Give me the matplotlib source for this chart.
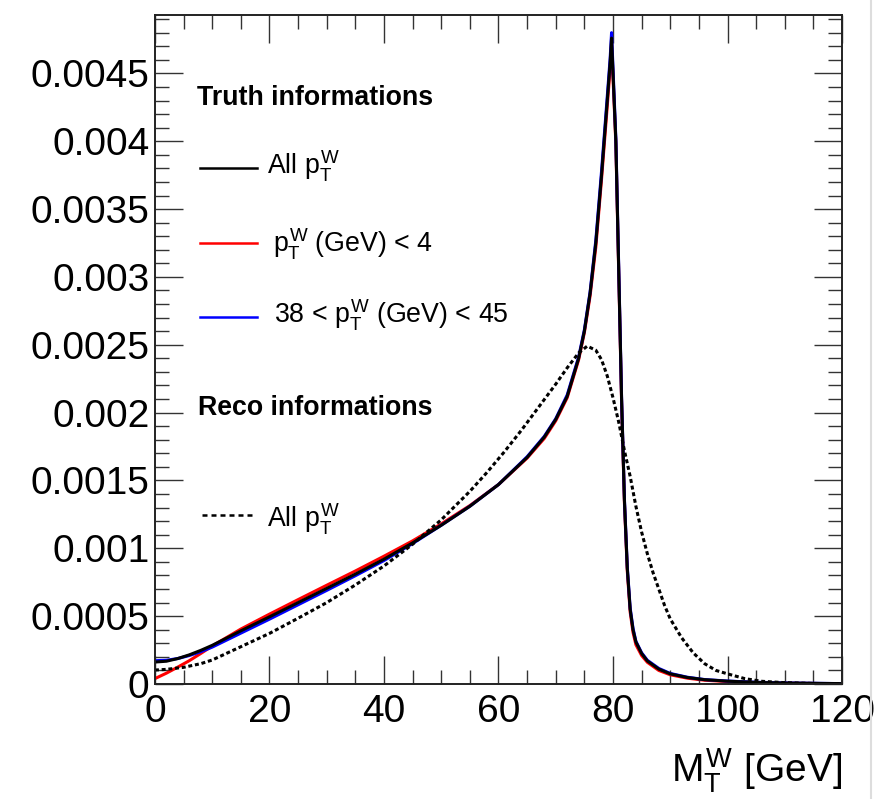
import matplotlib
matplotlib.use("Agg")
import matplotlib.pyplot as plt
from matplotlib.lines import Line2D
from matplotlib.ticker import MultipleLocator, FuncFormatter

plt.rcParams["font.family"] = ["Liberation Sans", "DejaVu Sans"]
plt.rcParams["mathtext.fontset"] = "custom"
plt.rcParams["mathtext.rm"] = "Liberation Sans"
plt.rcParams["mathtext.it"] = "Liberation Sans"
plt.rcParams["mathtext.bf"] = "Liberation Sans:bold"

# truth level M_T^W (GeV)
mt_truth = [0, 2, 4, 6, 8, 10, 15, 20, 25, 30, 35, 40, 45, 50, 55, 60, 65, 68, 70,
            72, 74, 75, 76, 77, 78, 79, 79.5, 79.75, 80.5, 81, 81.5, 82, 82.5, 83,
            83.5, 84, 85, 86, 88, 90, 93, 96, 100, 105, 110, 120]
truth_all = [1.62e-4, 1.68e-4, 1.88e-4, 2.15e-4, 2.48e-4, 2.85e-4, 3.92e-4, 4.95e-4,
             6.00e-4, 7.05e-4, 8.10e-4, 9.20e-4, 1.04e-3, 1.17e-3, 1.31e-3, 1.47e-3,
             1.67e-3, 1.82e-3, 1.95e-3, 2.12e-3, 2.40e-3, 2.60e-3, 2.88e-3, 3.25e-3,
             3.75e-3, 4.30e-3, 4.58e-3, 4.76e-3, 4.00e-3, 3.05e-3, 2.10e-3, 1.35e-3,
             8.5e-4, 5.5e-4, 4.0e-4, 3.1e-4, 2.25e-4, 1.7e-4, 1.1e-4, 7.5e-5, 4.8e-5,
             3.2e-5, 2.1e-5, 1.2e-5, 7e-6, 3e-6]
truth_low = [4.0e-5, 8.0e-5, 1.25e-4, 1.72e-4, 2.25e-4, 2.80e-4, 4.05e-4, 5.15e-4,
             6.22e-4, 7.28e-4, 8.33e-4, 9.42e-4, 1.055e-3, 1.18e-3, 1.315e-3, 1.47e-3,
             1.665e-3, 1.81e-3, 1.94e-3, 2.11e-3, 2.39e-3, 2.59e-3, 2.86e-3, 3.22e-3,
             3.72e-3, 4.26e-3, 4.54e-3, 4.72e-3, 3.98e-3, 3.03e-3, 2.08e-3, 1.33e-3,
             8.3e-4, 5.3e-4, 3.8e-4, 2.9e-4, 2.1e-4, 1.6e-4, 1.0e-4, 6.8e-5, 4.3e-5,
             2.8e-5, 1.8e-5, 1.0e-5, 6e-6, 2e-6]
truth_mid = [1.72e-4, 1.75e-4, 1.88e-4, 2.10e-4, 2.38e-4, 2.72e-4, 3.75e-4, 4.78e-4,
             5.84e-4, 6.90e-4, 7.98e-4, 9.10e-4, 1.035e-3, 1.17e-3, 1.31e-3, 1.47e-3,
             1.675e-3, 1.825e-3, 1.955e-3, 2.13e-3, 2.41e-3, 2.61e-3, 2.89e-3, 3.27e-3,
             3.78e-3, 4.33e-3, 4.61e-3, 4.80e-3, 4.02e-3, 3.07e-3, 2.11e-3, 1.36e-3,
             8.6e-4, 5.6e-4, 4.1e-4, 3.15e-4, 2.3e-4, 1.75e-4, 1.15e-4, 7.8e-5, 5.0e-5,
             3.3e-5, 2.2e-5, 1.3e-5, 8e-6, 3e-6]

# reco level
mt_reco = [0, 2, 5, 8, 10, 15, 20, 25, 30, 35, 40, 45, 50, 55, 58, 61, 64, 67, 70, 72,
           74, 75.5, 77, 78, 79, 80, 81, 82, 83, 84, 85, 86, 87, 88, 89, 90, 92, 94,
           96, 98, 100, 103, 106, 110, 115, 120]
reco_all = [1.03e-4, 1.08e-4, 1.23e-4, 1.50e-4, 1.77e-4, 2.75e-4, 3.73e-4, 4.85e-4,
            6.00e-4, 7.30e-4, 8.70e-4, 1.03e-3, 1.21e-3, 1.42e-3, 1.56e-3, 1.71e-3,
            1.87e-3, 2.04e-3, 2.21e-3, 2.33e-3, 2.44e-3, 2.49e-3, 2.46e-3, 2.39e-3,
            2.27e-3, 2.11e-3, 1.93e-3, 1.72e-3, 1.53e-3, 1.31e-3, 1.12e-3, 9.6e-4,
            8.2e-4, 7.0e-4, 5.8e-4, 4.8e-4, 3.4e-4, 2.3e-4, 1.5e-4, 1.0e-4, 7.5e-5,
            4.0e-5, 2.0e-5, 1.0e-5, 4e-6, 2e-6]

fig = plt.figure(figsize=(8.76, 7.99), dpi=100)
ax = fig.add_axes([0.1769, 0.1439, 0.7843, 0.8373])

lw = 2.2
dash = (0, (1.3, 0.9))
ax.plot(mt_truth, truth_low, color="#ff0000", lw=lw)
ax.plot(mt_truth, truth_mid, color="#0000ff", lw=lw)
ax.plot(mt_truth, truth_all, color="black", lw=lw)
ax.plot(mt_reco, reco_all, color="black", lw=lw, linestyle=dash)

ax.set_xlim(0, 120)
ax.set_ylim(0, 0.00493)

ax.xaxis.set_major_locator(MultipleLocator(20))
ax.xaxis.set_minor_locator(MultipleLocator(5))
ax.yaxis.set_major_locator(MultipleLocator(0.0005))
ax.yaxis.set_minor_locator(MultipleLocator(0.0001))
ax.yaxis.set_major_formatter(FuncFormatter(lambda v, p: "%g" % round(v, 6)))

ax.tick_params(which="both", direction="in", top=True, right=True,
               color="#333333", width=1.0, labelsize=28)
ax.tick_params(which="major", length=20)
ax.tick_params(which="minor", length=10)
ax.tick_params(axis="x", pad=7)
ax.tick_params(axis="y", pad=4)
for s in ax.spines.values():
    s.set_linewidth(1.4)
    s.set_color("#222222")

ax.set_xlabel(r"$M_T^W$ [GeV]", fontsize=28, loc="right", labelpad=12)

# legend block, built by hand like the ROOT TLegend
leg_fs = 19.3
ax.text(0.061, 0.8655, "Truth informations", transform=ax.transAxes,
        fontsize=leg_fs, fontweight="bold", va="baseline")
entries = [
    (0.761, 0.771, "black", "-", r"All $p_T^W$", 0.163),
    (0.6457, 0.659, "#ff0000", "-", r"$p_T^W$ (GeV) < 4", 0.172),
    (0.5396, 0.5486, "#0000ff", "-", r"38 < $p_T^W$ (GeV) < 45", 0.173),
]
for base, ly, col, ls, lab, tx in entries:
    ax.add_line(Line2D([0.0655, 0.1485], [ly, ly], transform=ax.transAxes,
                       color=col, lw=1.8, linestyle=ls))
    ax.text(tx, base, lab, transform=ax.transAxes, fontsize=leg_fs, va="baseline")

ax.text(0.063, 0.402, "Reco informations", transform=ax.transAxes,
        fontsize=leg_fs, fontweight="bold", va="baseline")
ax.add_line(Line2D([0.0685, 0.1413], [0.2526, 0.2526], transform=ax.transAxes,
                   color="black", lw=1.8, linestyle=(0, (2, 1.6))))
ax.text(0.163, 0.2347, r"All $p_T^W$", transform=ax.transAxes,
        fontsize=leg_fs, va="baseline")

fig.add_artist(Line2D([0.994, 0.994], [0, 1], color="#dddddd", lw=1.5))

fig.savefig("out.png", dpi=100)
